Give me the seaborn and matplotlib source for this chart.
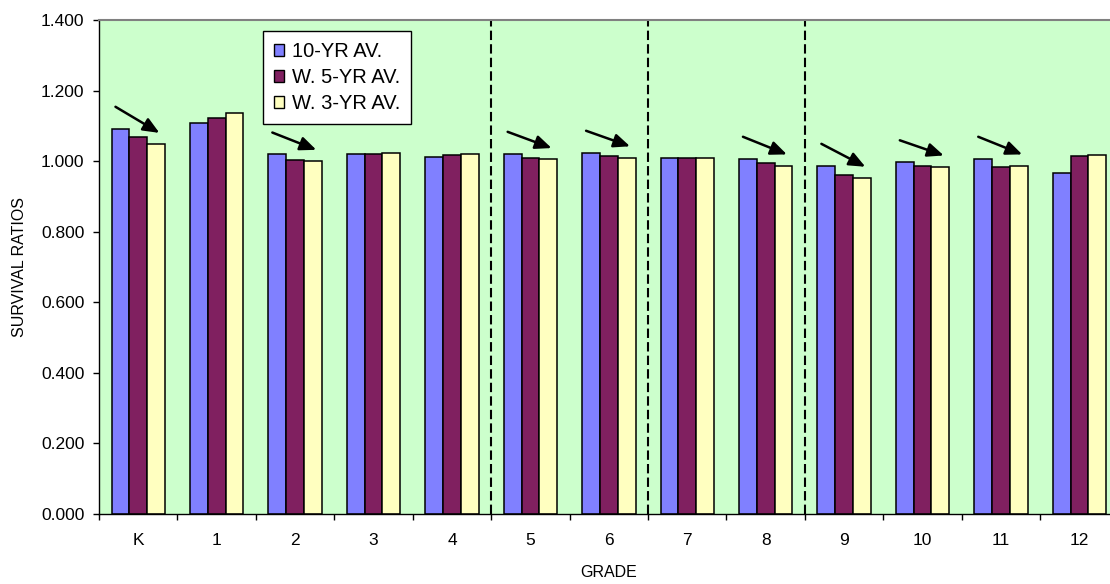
import numpy as np
import pandas as pd
import matplotlib
matplotlib.use("Agg")
import matplotlib.pyplot as plt
import seaborn as sns
from matplotlib.patches import Patch

# values
grades = ["K", "1", "2", "3", "4", "5", "6", "7", "8", "9", "10", "11", "12"]
ten_yr = [1.092, 1.107, 1.019, 1.020, 1.012, 1.021, 1.024, 1.010, 1.007, 0.987, 0.997, 1.007, 0.966]
w5_yr = [1.069, 1.123, 1.003, 1.020, 1.017, 1.009, 1.014, 1.008, 0.994, 0.962, 0.986, 0.982, 1.014]
w3_yr = [1.048, 1.136, 1.000, 1.024, 1.019, 1.005, 1.010, 1.009, 0.987, 0.952, 0.984, 0.987, 1.016]
series_names = ["10-YR AV.", "W. 5-YR AV.", "W. 3-YR AV."]
colors = ["#8080FF", "#802060", "#FFFFC0"]

# grades that carry a downward-trend arrow, and the section dividers
arrow_grades = ["K", "2", "5", "6", "8", "9", "10", "11"]
divider_after = ["4", "6", "8"]

df = pd.DataFrame({
    "GRADE": grades * 3,
    "ratio": ten_yr + w5_yr + w3_yr,
    "series": np.repeat(series_names, len(grades)),
})

plt.rcParams["font.family"] = ["Liberation Sans", "DejaVu Sans"]

fig = plt.figure(figsize=(11.1, 5.84), dpi=100)
# the plot area runs a bit past the right edge of the picture, as in the original
ax = fig.add_axes([0.0892, 0.1199, 0.9186, 0.8459])
ax.set_facecolor("#CCFFCC")

sns.barplot(data=df, x="GRADE", y="ratio", hue="series", palette=colors,
            saturation=1, width=0.68, edgecolor="black", linewidth=1.1,
            legend=False, ax=ax)

ax.set_xlim(-0.5, len(grades) - 0.5)
ax.set_ylim(0, 1.4)

# dashed dividers between grade groups
for g in divider_after:
    ax.axvline(grades.index(g) + 0.5, color="black", lw=1.5,
               ls=(0, (4.5, 2)), zorder=1)

# arrows from above the 10-yr bar down towards the 3-yr bar
for g in arrow_grades:
    i = grades.index(g)
    ax.annotate("", xy=(i + 0.27, w3_yr[i] + 0.032),
                xytext=(i - 0.29, ten_yr[i] + 0.062),
                arrowprops=dict(arrowstyle="-|>,head_length=0.75,head_width=0.32",
                                mutation_scale=13, color="black", lw=1.8,
                                shrinkA=0, shrinkB=0))

# ticks
ax.set_xticks(range(len(grades)))
ax.set_xticklabels(grades)
ax.set_xticks(np.arange(-0.5, len(grades), 1), minor=True)
ax.tick_params(axis="x", which="major", length=0, pad=14, labelsize=12.5)
ax.tick_params(axis="x", which="minor", length=4.5, width=1, direction="out")
ax.set_yticks(np.arange(0, 1.41, 0.2))
ax.set_yticklabels([f"{v:.3f}" for v in np.arange(0, 1.41, 0.2)])
ax.tick_params(axis="y", length=4.5, width=1, pad=6, labelsize=12.5)

for side in ["left", "bottom"]:
    ax.spines[side].set_color("black")
    ax.spines[side].set_linewidth(1)
ax.spines["top"].set_color("#808080")
ax.spines["top"].set_linewidth(1.5)
ax.spines["right"].set_color("#808080")

ax.set_xlabel("GRADE", fontsize=11.5)
ax.xaxis.label.set_va("center")
ax.xaxis.set_label_coords(0.5, -0.119)
ax.set_ylabel("SURVIVAL RATIOS", fontsize=11.5)
ax.yaxis.label.set_va("center")
ax.yaxis.set_label_coords(-0.078, 0.5)

handles = [Patch(facecolor=c, edgecolor="black", lw=1) for c in colors]
leg = ax.legend(handles, series_names, loc="upper left",
                bbox_to_anchor=(0.1606, 0.978), borderaxespad=0,
                frameon=True, fancybox=False, edgecolor="black", framealpha=1,
                fontsize=14.5, handlelength=0.5, handleheight=0.5,
                handletextpad=0.4, labelspacing=0.35, borderpad=0.55)
leg.get_frame().set_linewidth(1)

fig.savefig("out.png", dpi=100)
